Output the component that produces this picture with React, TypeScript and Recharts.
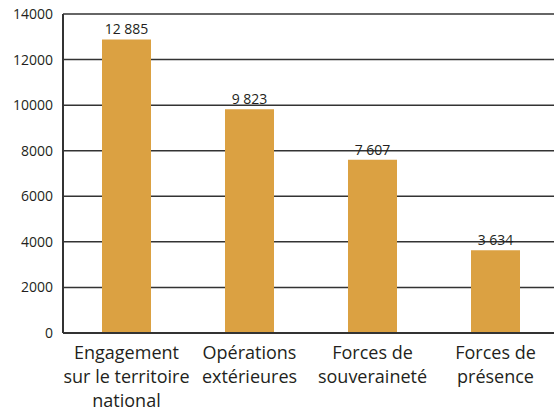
import { BarChart, Bar, XAxis, YAxis, CartesianGrid, LabelList } from 'recharts';

const categories = [
  'Engagement\nsur le territoire\nnational',
  'Opérations\nextérieures',
  'Forces de\nsouveraineté',
  'Forces de\nprésence',
];
const effectifs = [12885, 9823, 7607, 3634];
const yTicks = [0, 2000, 4000, 6000, 8000, 10000, 12000, 14000];

const data = categories.map((name, i) => ({ name, value: effectifs[i] }));

const FONT = '"Open Sans", "Noto Sans", sans-serif';
const TEXT = '#231f20';

const fmt = (v: any) => String(v).replace(/\B(?=(\d{3})+(?!\d))/g, ' ');

const CategoryTick = (props: any) => {
  const { x, y, payload } = props;
  const lines = String(payload.value).split('\n');
  return (
    <text x={x} y={y} textAnchor="middle" fill={TEXT} fontSize={18} fontFamily={FONT}>
      {lines.map((line, i) => (
        <tspan key={i} x={x} y={y + 18 + i * 24}>
          {line}
        </tspan>
      ))}
    </text>
  );
};

export default function App() {
  return (
    <div style={{ position: 'absolute', left: 0, top: 0, background: '#fff' }}>
      <BarChart
        width={557}
        height={412}
        data={data}
        margin={{ top: 14, right: 0, bottom: 0, left: 0 }}
      >
        <CartesianGrid vertical={false} stroke="#333" strokeWidth={1.5} />
        <XAxis
          dataKey="name"
          height={79}
          interval={0}
          padding={{ left: 2, right: 0 }}
          tickLine={false}
          axisLine={{ stroke: '#333', strokeWidth: 2 }}
          tick={<CategoryTick />}
        />
        <YAxis
          width={63}
          domain={[0, 14000]}
          ticks={yTicks}
          tickLine={false}
          tickMargin={4}
          axisLine={{ stroke: '#333', strokeWidth: 2 }}
          tick={{ fill: TEXT, fontSize: 14, fontFamily: FONT }}
        />
        <Bar dataKey="value" fill="#dba142" barSize={49} isAnimationActive={false}>
          <LabelList
            dataKey="value"
            position="top"
            formatter={fmt}
            fill={TEXT}
            fontSize={14}
            fontFamily={FONT}
          />
        </Bar>
      </BarChart>
    </div>
  );
}
